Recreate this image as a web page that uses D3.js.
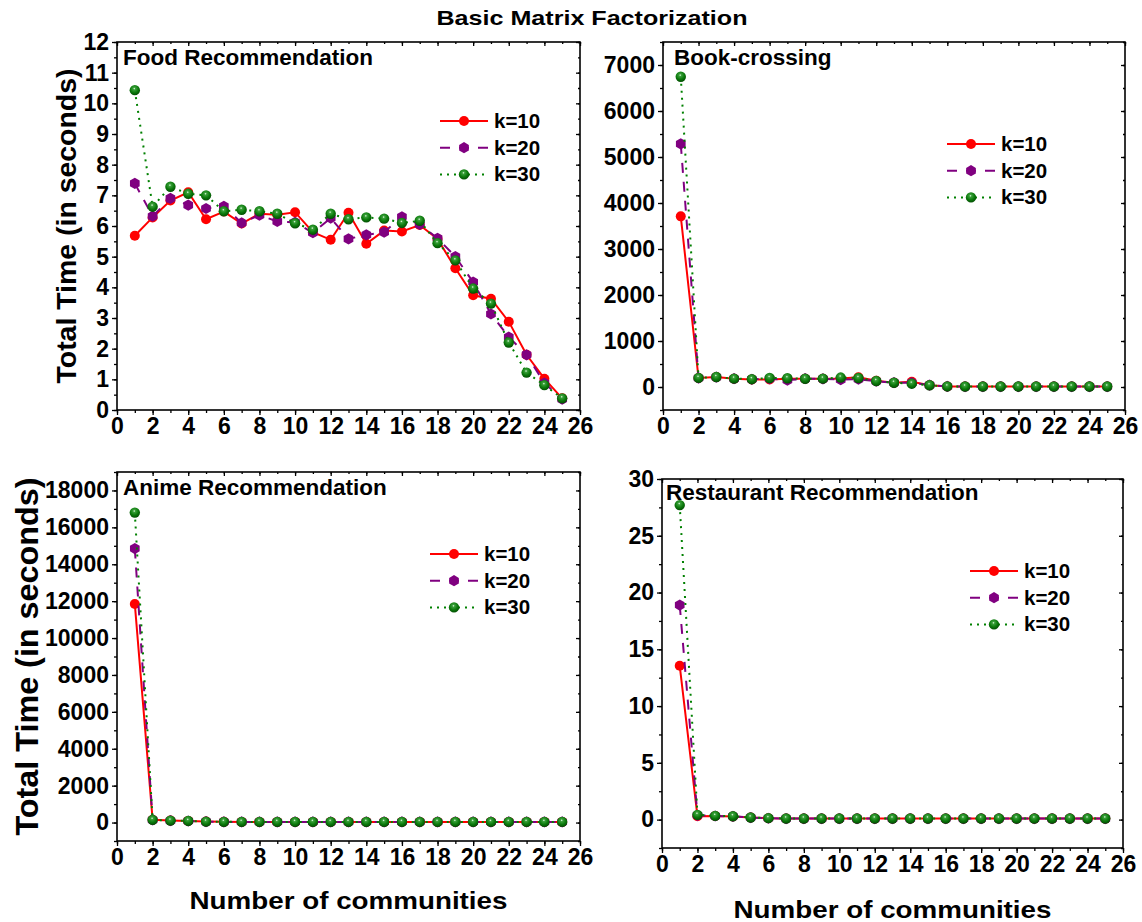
<!DOCTYPE html>
<html>
<head>
<meta charset="utf-8">
<script src="https://cdn.jsdelivr.net/npm/d3@7"></script>
<style>
  body { margin: 0; background: #fff; }
  text { font-family: "Liberation Sans", Arial, sans-serif; font-weight: bold; fill: #000; }
</style>
</head>
<body>
<script>
// ---- data ----
const communities = [1,2,3,4,5,6,7,8,9,10,11,12,13,14,15,16,17,18,19,20,21,22,23,24,25];
const seriesNames = ["k=10", "k=20", "k=30"];

const foodK10 = [5.68,6.28,6.83,7.10,6.22,6.47,6.08,6.40,6.37,6.45,5.80,5.55,6.43,5.42,5.85,5.82,6.03,5.58,4.62,3.74,3.63,2.88,1.80,1.02,0.38];
const foodK20 = [7.39,6.32,6.90,6.68,6.57,6.64,6.10,6.35,6.15,6.12,5.78,6.26,5.58,5.71,5.80,6.30,6.05,5.60,5.00,4.17,3.13,2.38,1.80,0.88,0.35];
const foodK30 = [10.43,6.63,7.28,7.05,7.00,6.48,6.53,6.48,6.40,6.09,5.88,6.40,6.22,6.28,6.24,6.10,6.17,5.44,4.88,3.96,3.47,2.20,1.22,0.81,0.38];

const bookK10 = [3710,195,215,180,165,165,180,180,180,185,210,135,95,115,40,12,10,10,10,10,10,10,10,10,10];
const bookK20 = [5285,195,215,180,168,180,150,180,178,160,168,125,95,90,40,12,10,10,10,10,10,10,10,10,10];
const bookK30 = [6745,198,217,182,170,195,190,180,182,205,195,130,92,72,38,12,10,10,10,10,10,10,10,10,10];

const animeK10 = [11850,150,110,90,55,38,35,35,35,35,35,35,35,35,35,35,35,35,35,35,35,35,35,35,35];
const animeK20 = [14850,140,100,85,50,36,33,33,33,33,33,33,33,33,33,33,33,33,33,33,33,33,33,33,33];
const animeK30 = [16800,145,105,88,52,38,35,35,35,35,35,35,35,35,35,35,35,35,35,35,35,35,35,35,35];

const restK10 = [13.55,0.30,0.32,0.28,0.18,0.12,0.10,0.09,0.09,0.09,0.09,0.09,0.09,0.09,0.09,0.09,0.09,0.09,0.09,0.09,0.09,0.09,0.09,0.09,0.09];
const restK20 = [18.90,0.38,0.32,0.29,0.18,0.12,0.09,0.09,0.09,0.09,0.09,0.09,0.09,0.09,0.09,0.09,0.09,0.09,0.09,0.09,0.09,0.09,0.09,0.09,0.09];
const restK30 = [27.70,0.42,0.33,0.30,0.19,0.13,0.10,0.10,0.10,0.10,0.10,0.10,0.10,0.10,0.10,0.10,0.10,0.10,0.10,0.10,0.10,0.10,0.10,0.10,0.10];

const xTicks = [0,2,4,6,8,10,12,14,16,18,20,22,24,26];

// ---- layout ----
const width = 1142, height = 922;
const colors = ["#ff0000", "#800080", "#008000"];
const dashes = [null, "10,9", "2,5"];

const panels = [
  { title: "Food Recommendation", series: [foodK10, foodK20, foodK30],
    box: {l: 117, r: 580, t: 42, b: 410}, yDom: [0, 12], yStep: 1, yMinor: 0.5,
    titleDx: 6, titleDy: 23, legend: {x: 440, y: 121}, xTitle: null,
    yTitle: {x: 66, size: 27, len: 315} },
  { title: "Book-crossing", series: [bookK10, bookK20, bookK30],
    box: {l: 663, r: 1125, t: 42, b: 410}, yDom: [-500, 7500], yStep: 1000, yMinor: 500,
    titleDx: 11, titleDy: 23, legend: {x: 947, y: 144}, xTitle: null, yTitle: null },
  { title: "Anime Recommendation", series: [animeK10, animeK20, animeK30],
    box: {l: 117, r: 580, t: 472, b: 841}, yDom: [-1000, 19000], yStep: 2000, yMinor: 1000,
    titleDx: 6, titleDy: 23, legend: {x: 430, y: 554}, xTitle: {y: 909},
    yTitle: {x: 27, size: 31, len: 358} },
  { title: "Restaurant Recommendation", series: [restK10, restK20, restK30],
    box: {l: 662, r: 1123, t: 479, b: 848}, yDom: [-2.5, 30], yStep: 5, yMinor: 2.5,
    titleDx: 4, titleDy: 21, legend: {x: 970, y: 571}, xTitle: {y: 918}, yTitle: null }
];

const svg = d3.select("body").append("svg")
  .attr("width", width).attr("height", height);

// shaded sphere for k=30 markers
const grad = svg.append("defs").append("radialGradient")
  .attr("id", "sphere").attr("cx", "45%").attr("cy", "35%").attr("r", "65%");
grad.append("stop").attr("offset", "0%").attr("stop-color", "#e8ffe8");
grad.append("stop").attr("offset", "18%").attr("stop-color", "#3aa03a");
grad.append("stop").attr("offset", "60%").attr("stop-color", "#0c7a0c");
grad.append("stop").attr("offset", "100%").attr("stop-color", "#024d02");

const hexagon = r => {
  const pts = d3.range(6).map(i => {
    const a = Math.PI / 6 + i * Math.PI / 3;
    return [r * Math.cos(a), r * Math.sin(a)];
  });
  return "M" + pts.map(p => p.join(",")).join("L") + "Z";
};

function drawMarker(g, i, cx, cy) {
  if (i === 0) {
    g.append("circle").attr("cx", cx).attr("cy", cy).attr("r", 5).attr("fill", colors[0]);
  } else if (i === 1) {
    g.append("path").attr("d", hexagon(5.6))
      .attr("transform", `translate(${cx},${cy})`).attr("fill", colors[1]);
  } else {
    g.append("circle").attr("cx", cx).attr("cy", cy).attr("r", 5.2)
      .attr("fill", "url(#sphere)");
  }
}

svg.append("text")
  .attr("x", 592).attr("y", 25)
  .attr("text-anchor", "middle")
  .attr("font-size", 21)
  .attr("textLength", 311).attr("lengthAdjust", "spacingAndGlyphs")
  .text("Basic Matrix Factorization");

panels.forEach(p => {
  const g = svg.append("g");
  const x = d3.scaleLinear().domain([0, 26]).range([p.box.l, p.box.r]);
  const y = d3.scaleLinear().domain(p.yDom).range([p.box.b, p.box.t]);

  const yMajor = d3.range(0, p.yDom[1] + 1e-9, p.yStep);
  const yMinor = d3.range(Math.ceil(p.yDom[0] / p.yMinor) * p.yMinor, p.yDom[1] + 1e-9, p.yMinor);
  const xMinor = d3.range(0, 26.5, 1);

  // bottom axis
  g.append("g").attr("transform", `translate(0,${p.box.b})`)
    .call(d3.axisBottom(x).tickValues(xMinor).tickSize(3).tickFormat(""))
    .call(a => a.select(".domain").remove());
  g.append("g").attr("transform", `translate(0,${p.box.b})`)
    .call(d3.axisBottom(x).tickValues(xTicks).tickSize(5).tickPadding(3))
    .call(a => a.select(".domain").remove())
    .call(a => a.selectAll("text").attr("font-size", 23));

  // left axis
  g.append("g").attr("transform", `translate(${p.box.l},0)`)
    .call(d3.axisLeft(y).tickValues(yMinor).tickSize(3).tickFormat(""))
    .call(a => a.select(".domain").remove());
  g.append("g").attr("transform", `translate(${p.box.l},0)`)
    .call(d3.axisLeft(y).tickValues(yMajor).tickSize(5).tickPadding(3).tickFormat(d3.format("d")))
    .call(a => a.select(".domain").remove())
    .call(a => a.selectAll("text").attr("font-size", 23));

  // top and right frame ticks (inward)
  g.append("g").attr("transform", `translate(0,${p.box.t})`)
    .call(d3.axisBottom(x).tickValues(xTicks).tickSize(4).tickFormat(""))
    .call(a => a.select(".domain").remove());
  g.append("g").attr("transform", `translate(0,${p.box.t})`)
    .call(d3.axisBottom(x).tickValues(xMinor).tickSize(2).tickFormat(""))
    .call(a => a.select(".domain").remove());
  g.append("g").attr("transform", `translate(${p.box.r},0)`)
    .call(d3.axisLeft(y).tickValues(yMajor).tickSize(4).tickFormat(""))
    .call(a => a.select(".domain").remove());
  g.append("g").attr("transform", `translate(${p.box.r},0)`)
    .call(d3.axisLeft(y).tickValues(yMinor).tickSize(2).tickFormat(""))
    .call(a => a.select(".domain").remove());

  g.selectAll(".tick line").attr("stroke", "#000").attr("stroke-width", 1.3);

  // frame
  g.append("rect")
    .attr("x", p.box.l).attr("y", p.box.t)
    .attr("width", p.box.r - p.box.l).attr("height", p.box.b - p.box.t)
    .attr("fill", "none").attr("stroke", "#000").attr("stroke-width", 1.6);

  // series
  const line = d3.line().x(d => x(d[0])).y(d => y(d[1]));
  p.series.forEach((vals, i) => {
    const pts = communities.map((c, j) => [c, vals[j]]);
    g.append("path").datum(pts)
      .attr("d", line)
      .attr("fill", "none")
      .attr("stroke", colors[i])
      .attr("stroke-width", 2)
      .attr("stroke-dasharray", dashes[i]);
    const mg = g.append("g");
    pts.forEach(d => drawMarker(mg, i, x(d[0]), y(d[1])));
  });

  // panel title
  g.append("text")
    .attr("x", p.box.l + p.titleDx).attr("y", p.box.t + p.titleDy)
    .attr("font-size", 22.5)
    .text(p.title);

  // legend
  seriesNames.forEach((name, i) => {
    const ly = p.legend.y + i * 26.7;
    g.append("line")
      .attr("x1", p.legend.x).attr("x2", p.legend.x + 48)
      .attr("y1", ly).attr("y2", ly)
      .attr("stroke", colors[i]).attr("stroke-width", 2)
      .attr("stroke-dasharray", dashes[i]);
    drawMarker(g, i, p.legend.x + 24, ly);
    g.append("text")
      .attr("x", p.legend.x + 54).attr("y", ly + 7)
      .attr("font-size", 20.5)
      .text(name);
  });

  if (p.yTitle) {
    g.append("text")
      .attr("transform", `translate(${p.yTitle.x + p.yTitle.size * 0.36},${(p.box.t + p.box.b) / 2}) rotate(-90)`)
      .attr("text-anchor", "middle")
      .attr("font-size", p.yTitle.size)
      .attr("textLength", p.yTitle.len).attr("lengthAdjust", "spacingAndGlyphs")
      .text("Total Time (in seconds)");
  }
  if (p.xTitle) {
    g.append("text")
      .attr("x", (p.box.l + p.box.r) / 2).attr("y", p.xTitle.y)
      .attr("text-anchor", "middle")
      .attr("font-size", 24)
      .attr("textLength", 318).attr("lengthAdjust", "spacingAndGlyphs")
      .text("Number of communities");
  }
});
</script>
</body>
</html>
